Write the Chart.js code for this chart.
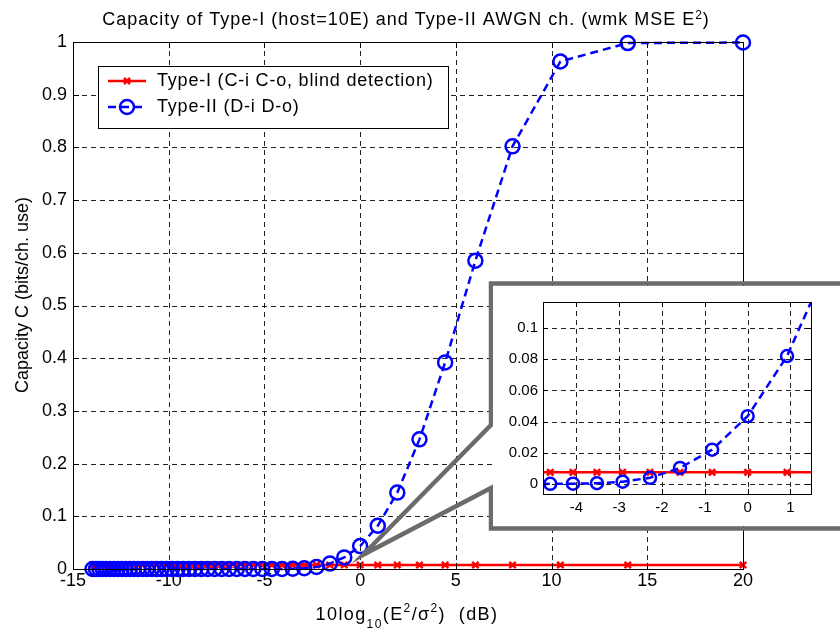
<!DOCTYPE html>
<html>
<head>
<meta charset="utf-8">
<script src="https://cdn.jsdelivr.net/npm/chart.js@4.4.0/dist/chart.umd.min.js"></script>
<style>
  body { margin: 0; background: #fff; }
  #wrap { position: relative; width: 840px; height: 634px; }
  #mainChart { position: absolute; left: 0; top: 0; }
  #insetChart { position: absolute; left: 493px; top: 286px; background: #fff; }
</style>
</head>
<body>
<div id="wrap">
  <canvas id="mainChart" width="840" height="634"></canvas>
  <canvas id="insetChart" width="347" height="240"></canvas>
</div>
<script>
const FONT = '"Liberation Sans", Arial, sans-serif';

// 10log10(E^2/sigma^2) in dB
let snrDb = [-13.98, -13.80, -13.62, -13.44, -13.26, -13.06, -12.87, -12.67, -12.46, -12.26,
             -12.04, -11.82, -11.60, -11.36, -11.13, -10.88, -10.63, -10.37, -10.10, -9.83,
             -9.54, -9.25, -8.94, -8.63, -8.30, -7.96, -7.60, -7.23, -6.85, -6.44,
             -6.02, -5.58, -5.11, -4.61, -4.08, -3.52, -2.92, -2.28, -1.58, -0.83,
             0.00, 0.92, 1.94, 3.10, 4.44, 6.02, 7.96, 10.46, 13.98, 20.00];

let typeOne = [0.0075, 0.0075, 0.0075, 0.0075, 0.0075, 0.0075, 0.0075, 0.0075, 0.0075, 0.0075,
               0.0075, 0.0075, 0.0075, 0.0075, 0.0075, 0.0075, 0.0075, 0.0075, 0.0075, 0.0075,
               0.0075, 0.0075, 0.0075, 0.0075, 0.0075, 0.0075, 0.0075, 0.0075, 0.0075, 0.0075,
               0.0075, 0.0075, 0.0075, 0.0075, 0.0075, 0.0075, 0.0075, 0.0075, 0.0075, 0.0075,
               0.0075, 0.0075, 0.0075, 0.0075, 0.0075, 0.0075, 0.0075, 0.0075, 0.0075, 0.0075];

let typeTwo = [0, 0, 0, 0, 0, 0, 0, 0, 0, 0,
               0, 0, 0, 0, 0, 0, 0, 0, 0, 0,
               0, 0, 0, 0, 0, 0, 0, 0, 0, 0,
               0, 0, 0, 0.0001, 0.0002, 0.0005, 0.0015, 0.004, 0.0103, 0.022,
               0.0435, 0.082, 0.145, 0.246, 0.392, 0.585, 0.802, 0.963, 0.998, 0.999];

let legendLabels = ["Type-I (C-i C-o, blind detection)", "Type-II (D-i D-o)"];

function points(values) {
    return snrDb.map(function(x, i) { return { x: x, y: values[i] }; });
}

function makeDatasets(big) {
    return [
        {
            label: legendLabels[1],
            data: points(typeTwo),
            order: 0,
            borderColor: "#0000ff",
            borderWidth: 2.5,
            borderDash: [8, 5],
            pointStyle: "circle",
            pointRadius: big ? 7 : 6,
            pointBorderWidth: 2.5,
            pointBorderColor: "#0000ff",
            pointBackgroundColor: "rgba(0,0,0,0)",
            tension: 0,
            clip: big ? false : 0
        },
        {
            label: legendLabels[0],
            data: points(typeOne),
            order: 1,
            borderColor: "#ff0000",
            borderWidth: 2.5,
            pointStyle: "crossRot",
            pointRadius: 4.5,
            pointBorderWidth: 2.5,
            pointBorderColor: "#ff0000",
            pointBackgroundColor: "#ff0000",
            tension: 0,
            clip: big ? false : 0
        }
    ];
}

// dashed grid, inward ticks and the box, MATLAB style
const axesFrame = {
    id: "axesFrame",
    beforeDatasetsDraw(chart) {
        let ctx = chart.ctx, a = chart.chartArea;
        let x = chart.scales.x, y = chart.scales.y;
        ctx.save();
        ctx.strokeStyle = "#222";
        ctx.lineWidth = 1;
        ctx.setLineDash([5, 4]);
        x.ticks.forEach(function(t) {
            let px = Math.round(x.getPixelForValue(t.value)) + 0.5;
            if (px < a.left + 2 || px > a.right - 2) return;
            ctx.beginPath(); ctx.moveTo(px, a.top); ctx.lineTo(px, a.bottom); ctx.stroke();
        });
        y.ticks.forEach(function(t) {
            let py = Math.round(y.getPixelForValue(t.value)) + 0.5;
            if (py < a.top + 2 || py > a.bottom - 2) return;
            ctx.beginPath(); ctx.moveTo(a.left, py); ctx.lineTo(a.right, py); ctx.stroke();
        });
        ctx.restore();
    },
    afterDatasetsDraw(chart) {
        let ctx = chart.ctx, a = chart.chartArea;
        let x = chart.scales.x, y = chart.scales.y;
        let len = chart.options.plugins.axesFrame.tick;
        ctx.save();
        ctx.strokeStyle = "#000";
        ctx.lineWidth = 1;
        ctx.setLineDash([]);
        x.ticks.forEach(function(t) {
            let px = Math.round(x.getPixelForValue(t.value)) + 0.5;
            ctx.beginPath();
            ctx.moveTo(px, a.bottom); ctx.lineTo(px, a.bottom - len);
            ctx.moveTo(px, a.top); ctx.lineTo(px, a.top + len);
            ctx.stroke();
        });
        y.ticks.forEach(function(t) {
            let py = Math.round(y.getPixelForValue(t.value)) + 0.5;
            ctx.beginPath();
            ctx.moveTo(a.left, py); ctx.lineTo(a.left + len, py);
            ctx.moveTo(a.right, py); ctx.lineTo(a.right - len, py);
            ctx.stroke();
        });
        ctx.strokeRect(Math.round(a.left) + 0.5, Math.round(a.top) + 0.5,
                       Math.round(a.right - a.left), Math.round(a.bottom - a.top));
        ctx.restore();
    }
};

function drawRich(ctx, parts, cx, base, spacing) {
    ctx.letterSpacing = spacing + "px";
    let w = 0;
    parts.forEach(function(p) {
        ctx.font = p.size + "px " + FONT;
        w += ctx.measureText(p.t).width;
    });
    let px = cx - w / 2;
    ctx.textAlign = "left";
    ctx.textBaseline = "alphabetic";
    parts.forEach(function(p) {
        ctx.font = p.size + "px " + FONT;
        ctx.fillText(p.t, px, base + (p.dy || 0));
        px += ctx.measureText(p.t).width;
    });
    ctx.letterSpacing = "0px";
}

// title, axis labels, legend and the zoom callout
const mainDecor = {
    id: "mainDecor",
    afterDraw(chart) {
        let ctx = chart.ctx;
        let x = chart.scales.x, y = chart.scales.y;
        ctx.save();
        ctx.fillStyle = "#000";

        drawRich(ctx, [
            { t: "Capacity of Type-I (host=10E) and Type-II AWGN ch. (wmk MSE E", size: 18 },
            { t: "2", size: 12, dy: -6 },
            { t: ")", size: 18 }
        ], 406, 25, 1);

        drawRich(ctx, [
            { t: "10log", size: 18 },
            { t: "10", size: 12, dy: 8 },
            { t: "(E", size: 18 },
            { t: "2", size: 12, dy: -8 },
            { t: "/\u03c3", size: 18 },
            { t: "2", size: 12, dy: -8 },
            { t: ")  (dB)", size: 18 }
        ], 407, 620, 1.4);

        ctx.save();
        ctx.translate(23, 295);
        ctx.rotate(-Math.PI / 2);
        ctx.font = "18px " + FONT;
        ctx.textAlign = "center";
        ctx.textBaseline = "middle";
        ctx.fillText("Capacity C (bits/ch. use)", 0, 0);
        ctx.restore();

        // legend
        ctx.fillStyle = "#fff";
        ctx.fillRect(98, 66, 350, 62);
        ctx.strokeStyle = "#000";
        ctx.lineWidth = 1;
        ctx.strokeRect(98.5, 66.5, 350, 62);

        ctx.lineWidth = 2.5;
        ctx.strokeStyle = "#ff0000";
        ctx.beginPath(); ctx.moveTo(108, 81); ctx.lineTo(146, 81); ctx.stroke();
        ctx.beginPath();
        ctx.moveTo(124, 78); ctx.lineTo(130, 84);
        ctx.moveTo(130, 78); ctx.lineTo(124, 84);
        ctx.stroke();

        ctx.strokeStyle = "#0000ff";
        ctx.setLineDash([8, 5]);
        ctx.beginPath(); ctx.moveTo(108, 107); ctx.lineTo(146, 107); ctx.stroke();
        ctx.setLineDash([]);
        ctx.beginPath(); ctx.arc(127, 107, 7, 0, Math.PI * 2); ctx.stroke();

        ctx.fillStyle = "#000";
        ctx.font = "18px " + FONT;
        ctx.letterSpacing = "0.8px";
        ctx.textAlign = "left";
        ctx.textBaseline = "alphabetic";
        ctx.fillText(legendLabels[0], 157, 86);
        ctx.fillText(legendLabels[1], 157, 112);
        ctx.letterSpacing = "0px";

        // callout frame round the zoomed inset
        let tipX = x.getPixelForValue(0.15), tipY = y.getPixelForValue(0.027);
        ctx.strokeStyle = "#6b6b6b";
        ctx.lineWidth = 4.5;
        ctx.lineJoin = "miter";
        ctx.miterLimit = 10;
        ctx.beginPath();
        ctx.moveTo(491, 425);
        ctx.lineTo(tipX, tipY);
        ctx.lineTo(491, 488);
        ctx.lineTo(491, 528.5);
        ctx.lineTo(860, 528.5);
        ctx.lineTo(860, 283.5);
        ctx.lineTo(491, 283.5);
        ctx.closePath();
        ctx.stroke();
        ctx.restore();
    }
};

function tickFont(size) {
    return { family: FONT, size: size };
}

function shortNum(v) {
    return String(parseFloat(Number(v).toFixed(2)));
}

new Chart(document.getElementById("mainChart"), {
    type: "line",
    data: { datasets: makeDatasets(true) },
    options: {
        responsive: false,
        animation: false,
        devicePixelRatio: 1,
        layout: { padding: { left: 0, top: 42, right: 97, bottom: 0 } },
        plugins: {
            legend: { display: false },
            tooltip: { enabled: false },
            axesFrame: { tick: 6 }
        },
        scales: {
            x: {
                type: "linear",
                min: -15,
                max: 20,
                ticks: { stepSize: 5, color: "#000", font: tickFont(18), padding: 1, maxRotation: 0, includeBounds: false },
                grid: { display: false, drawTicks: false },
                border: { display: false },
                afterFit: function(s) { s.height = 65; }
            },
            y: {
                min: 0,
                max: 1,
                ticks: { stepSize: 0.1, color: "#000", font: tickFont(18), padding: 6, includeBounds: false, callback: shortNum },
                grid: { display: false, drawTicks: false },
                border: { display: false },
                afterFit: function(s) { s.width = 73; }
            }
        }
    },
    plugins: [axesFrame, mainDecor]
});

new Chart(document.getElementById("insetChart"), {
    type: "line",
    data: { datasets: makeDatasets(false) },
    options: {
        responsive: false,
        animation: false,
        devicePixelRatio: 1,
        layout: { padding: { left: 0, top: 16, right: 29, bottom: 0 } },
        plugins: {
            legend: { display: false },
            tooltip: { enabled: false },
            axesFrame: { tick: 5 }
        },
        scales: {
            x: {
                type: "linear",
                min: -4.78,
                max: 1.48,
                ticks: { stepSize: 1, color: "#000", font: tickFont(15), padding: 5, maxRotation: 0, includeBounds: false },
                grid: { display: false, drawTicks: false },
                border: { display: false },
                afterFit: function(s) { s.height = 32; }
            },
            y: {
                min: -0.0064,
                max: 0.1167,
                ticks: { stepSize: 0.02, color: "#000", font: tickFont(15), padding: 5, includeBounds: false, callback: shortNum },
                grid: { display: false, drawTicks: false },
                border: { display: false },
                afterFit: function(s) { s.width = 50; }
            }
        }
    },
    plugins: [axesFrame]
});
</script>
</body>
</html>
